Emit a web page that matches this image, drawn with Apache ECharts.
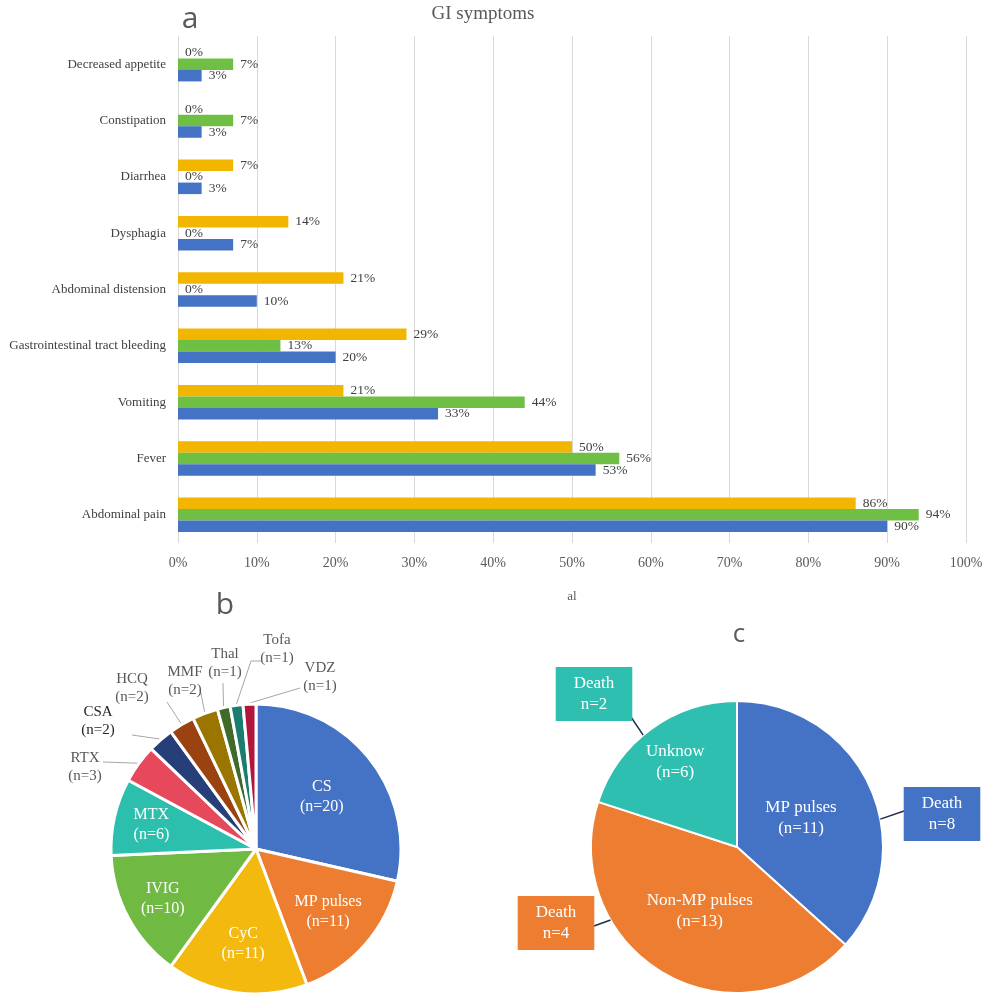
<!DOCTYPE html>
<html><head><meta charset="utf-8">
<script src="https://cdn.jsdelivr.net/npm/echarts@6/dist/echarts.min.js"></script>
<style>html,body{margin:0;padding:0;background:#fff}#c{width:986px;height:997px}</style>
</head><body><div id="c"></div>
<script>
// ---------- DATA ----------
const symptomCategories = ['Decreased appetite','Constipation','Diarrhea','Dysphagia','Abdominal distension','Gastrointestinal tract bleeding','Vomiting','Fever','Abdominal pain'];
const yellowValues = [0,0,7,14,21,29,21,50,86];
const greenValues  = [7,7,0,0,0,13,44,56,94];
const blueValues   = [3,3,3,7,10,20,33,53,90];
const xTickValues  = [0,10,20,30,40,50,60,70,80,90,100];

const treatmentNames  = ['CS','MP pulses','CyC','IVIG','MTX','RTX','CSA','HCQ','MMF','Thal','Tofa','VDZ'];
const treatmentCounts = [20,11,11,10,6,3,2,2,2,1,1,1];

const outcomeGroups = ['MP pulses','Non-MP pulses','Unknow'];
const outcomeCounts = [11,13,6];
const outcomeDeaths = [8,4,2];

// ---------- STYLE / LAYOUT ----------
const SERIF = "'Liberation Serif','Times New Roman',serif";
const SANS = "'Open Sans','Noto Sans',sans-serif";
const barColors = ['#F2B600','#70BF45','#4472C4'];
const pieBColors = ['#4472C4','#ED7D31','#F3B90E','#70B943','#2DBFAE','#E6495C','#263F78','#9A4310','#9A7500','#3F6A2A','#1B7C70','#B2163A'];
const pieCColors = ['#4472C4','#ED7D31','#2FBFB0'];

const B = {cx:256, cy:849, r:145};
const C = {cx:737, cy:847, r:146};
// inside label radial fractions
const bInnerFrac = [0.58,0.66,0.66,0.73,0.74];
const cInnerFrac = [0.48,0.51,0.72];
// outer labels of pie b: label center & line end, offsets from pie center
const bOuter = {
  5:{l:[-171,-82], e:[-153,-87]},
  6:{l:[-158,-128], e:[-124,-114]},
  7:{l:[-124,-161], e:[-89,-147]},
  8:{l:[-71,-168], e:[-56,-160]},
  9:{l:[-31,-186], e:[-33,-166]},
  10:{l:[21,-200], e:[-5,-188], m:[-5,-188]},
  11:{l:[64,-172], e:[44,-161]}
};
// death box centres & line ends, offsets from pie c centre; arc angle of line start
const cBox = [
  {l:[205,-33], e:[167,-36], a:79},
  {l:[-181,76], e:[-143,79], a:240},
  {l:[-143,-153], e:[-106,-130], a:320}
];

function midAngles(vals){
  const tot = vals.reduce((s,v)=>s+v,0); let acc=0; const out=[];
  vals.forEach(v=>{ out.push((acc+v/2)/tot*2*Math.PI); acc+=v; });
  return out;
}
function arcPt(p, ang, rr){ return [p.cx+Math.sin(ang)*rr, p.cy-Math.cos(ang)*rr]; }
const bMid = midAngles(treatmentCounts);
const cMid = midAngles(outcomeCounts);

const pieBData = treatmentNames.map((n,i)=>{
  const inside = i<5;
  return {
    name:n, value:treatmentCounts[i],
    itemStyle:{color:pieBColors[i]},
    label: inside ? {position:'inside', color:'#fff', fontSize:16, lineHeight:20}
                  : {position:'outside', color: i===6 ? '#262626' : '#595959', fontSize:15, lineHeight:18},
    labelLine: {show: !inside}
  };
});

const option = {
  animation:false,
  backgroundColor:'#fff',
  title:[
    {text:'a', left:185, top:-1, textAlign:'center', textStyle:{fontFamily:SANS, fontSize:30, fontWeight:'normal', color:'#595959'}},
    {text:'GI symptoms', left:478, top:0, textAlign:'center', textStyle:{fontFamily:SERIF, fontSize:19, fontWeight:'normal', color:'#595959'}},
    {text:'b', left:220, top:585, textAlign:'center', textStyle:{fontFamily:SANS, fontSize:30, fontWeight:'normal', color:'#595959'}},
    {text:'c', left:734, top:617, textAlign:'center', textStyle:{fontFamily:SANS, fontSize:26, fontWeight:'normal', color:'#595959'}}
  ],
  grid:{left:178, right:20, top:36, height:507},
  xAxis:{
    type:'value', min:0, max:100, interval:10,
    name:'al', nameLocation:'middle', nameGap:47,
    nameTextStyle:{fontFamily:SERIF, fontSize:13, color:'#595959'},
    axisLine:{show:false}, axisTick:{show:false},
    axisLabel:{formatter:'{value}%', fontFamily:SERIF, fontSize:14, color:'#595959', margin:13},
    splitLine:{show:true, lineStyle:{color:'#D9D9D9', width:1}}
  },
  yAxis:{
    type:'category', data:symptomCategories, inverse:true,
    axisLine:{show:false}, axisTick:{show:false},
    axisLabel:{fontFamily:SERIF, fontSize:13, color:'#404040', margin:12}
  },
  series:[
    ...[yellowValues, greenValues, blueValues].map((vals,k)=>({
      type:'bar', data:vals, barWidth:11.5, barGap:'0%',
      itemStyle:{color:barColors[k]},
      label:{show:true, position:'right', distance:7, formatter:'{c}%', fontFamily:SERIF, fontSize:13.5, color:'#404040'}
    })),
    {
      type:'pie', center:[B.cx,B.cy], radius:[0,B.r], startAngle:90, clockwise:true,
      data:pieBData,
      itemStyle:{borderColor:'#fff', borderWidth:3},
      label:{show:true, formatter:'{b}\n(n={c})', fontFamily:SERIF},
      labelLine:{lineStyle:{color:'#A6A6A6', width:1}},
      emphasis:{disabled:true},
      labelLayout:function(p){
        const i=p.dataIndex;
        if(i<5){
          const pt=arcPt(B,bMid[i],bInnerFrac[i]*B.r);
          return {x:pt[0], y:pt[1], align:'center', verticalAlign:'middle'};
        }
        const o=bOuter[i];
        const s=arcPt(B,bMid[i],B.r+1);
        const pts=[s,[B.cx+o.e[0],B.cy+o.e[1]]];
        if(o.m) pts.push([B.cx+o.e[0]+10,B.cy+o.e[1]]);
        return {x:B.cx+o.l[0], y:B.cy+o.l[1], align:'center', verticalAlign:'middle', labelLinePoints:pts};
      }
    },
    {
      type:'pie', center:[C.cx,C.cy], radius:[0,C.r], startAngle:90, clockwise:true,
      data:outcomeGroups.map((n,i)=>({name:n, value:outcomeCounts[i], itemStyle:{color:pieCColors[i]}})),
      itemStyle:{borderColor:'#fff', borderWidth:2},
      label:{show:true, position:'inside', formatter:'{b}\n(n={c})', fontFamily:SERIF, fontSize:17, lineHeight:21, color:'#fff'},
      emphasis:{disabled:true},
      labelLayout:function(p){
        const i=p.dataIndex;
        const pt=arcPt(C,cMid[i],cInnerFrac[i]*C.r);
        return {x:pt[0], y:pt[1], align:'center', verticalAlign:'middle'};
      }
    },
    {
      type:'pie', center:[C.cx,C.cy], radius:[0,C.r], startAngle:90, clockwise:true, silent:true, z:5,
      data:outcomeGroups.map((n,i)=>({name:n, value:outcomeCounts[i],
        itemStyle:{color:'rgba(0,0,0,0)'},
        label:{backgroundColor:pieCColors[i]}})),
      itemStyle:{borderWidth:0},
      label:{show:true, position:'outside', formatter:function(p){return 'Death\nn='+outcomeDeaths[p.dataIndex];},
        fontFamily:SERIF, fontSize:17, lineHeight:21, color:'#fff', padding:[6,18], overflow:'none', bleedMargin:0},
      labelLine:{show:true, length:0, length2:0, lineStyle:{color:'#1F2D4D', width:1.5}},
      emphasis:{disabled:true},
      labelLayout:function(p){
        const i=p.dataIndex, o=cBox[i];
        const s=arcPt(C,o.a*Math.PI/180,C.r);
        return {x:C.cx+o.l[0], y:C.cy+o.l[1], align:'center', verticalAlign:'middle',
          labelLinePoints:[s,[C.cx+o.e[0],C.cy+o.e[1]]]};
      }
    }
  ]
};
const chart = echarts.init(document.getElementById('c'));
chart.setOption(option);
</script></body></html>
